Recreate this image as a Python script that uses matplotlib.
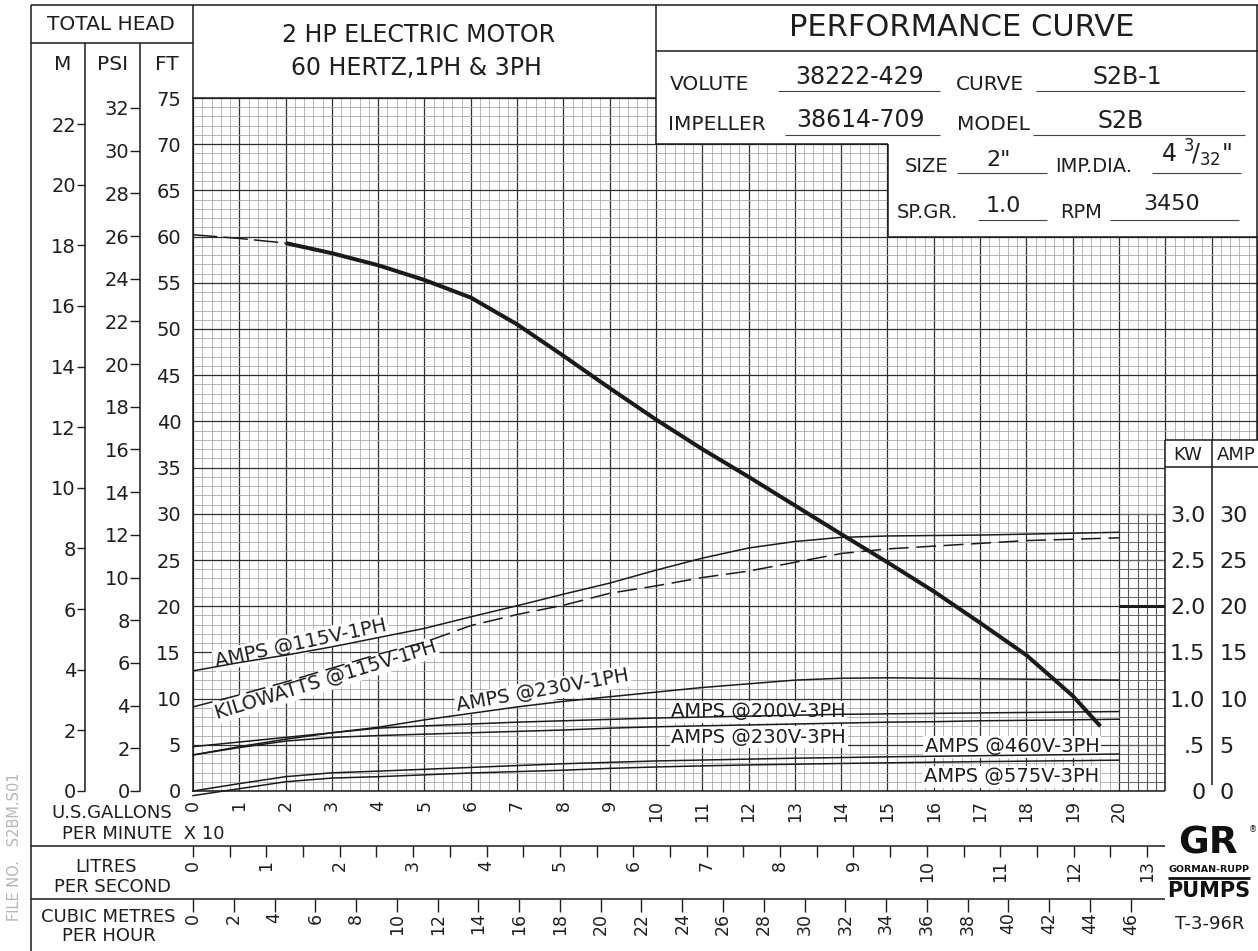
import numpy as np
import matplotlib
matplotlib.use("Agg")
import matplotlib.pyplot as plt
from matplotlib.patches import Rectangle

plt.rcParams['font.family'] = ['DejaVu Sans']

# ---------------- data (flow in U.S. GPM x 10) ----------------
flow = [0, 1, 2, 3, 4, 5, 6, 7, 8, 9, 10, 11, 12, 13, 14, 15, 16, 17, 18, 19, 20]

head_flow = [0, 1, 2, 3, 4, 5, 6, 7, 8, 9, 10, 11, 12, 13, 14, 15, 16, 17, 18, 19, 19.6]
head_ft = [60.2, 59.8, 59.3, 58.2, 56.9, 55.3, 53.4, 50.5, 47.1, 43.6, 40.2, 37.0,
           34.0, 30.9, 27.8, 24.75, 21.6, 18.2, 14.7, 10.3, 7.0]

amps_115v_1ph = [13.0, 13.9, 14.7, 15.6, 16.6, 17.6, 18.85, 20.05, 21.3, 22.5, 23.9,
                 25.2, 26.3, 27.0, 27.45, 27.6, 27.65, 27.7, 27.8, 27.9, 28.0]
kw_115v_1ph = [0.91, 1.04, 1.18, 1.33, 1.48, 1.61, 1.79, 1.91, 2.01, 2.14, 2.22,
               2.31, 2.38, 2.475, 2.57, 2.62, 2.65, 2.68, 2.71, 2.725, 2.74]
amps_230v_1ph = [4.8, 5.3, 5.8, 6.3, 6.9, 7.7, 8.4, 9.1, 9.7, 10.2, 10.7, 11.2,
                 11.6, 12.0, 12.2, 12.25, 12.2, 12.15, 12.1, 12.05, 12.0]
amps_200v_3ph = [3.9, 4.8, 5.6, 6.3, 6.8, 7.05, 7.25, 7.45, 7.6, 7.75, 7.9, 8.0,
                 8.1, 8.2, 8.3, 8.35, 8.4, 8.45, 8.5, 8.55, 8.6]
amps_230v_3ph = [3.9, 4.7, 5.4, 5.8, 6.0, 6.15, 6.3, 6.45, 6.6, 6.8, 6.95, 7.05,
                 7.15, 7.25, 7.35, 7.45, 7.5, 7.6, 7.65, 7.7, 7.77]
amps_460v_3ph = [0.0, 0.8, 1.55, 1.97, 2.15, 2.35, 2.55, 2.75, 2.95, 3.1, 3.25, 3.35,
                 3.45, 3.55, 3.62, 3.7, 3.76, 3.82, 3.88, 3.94, 4.0]
amps_575v_3ph = [-0.5, 0.25, 1.0, 1.4, 1.55, 1.75, 1.95, 2.1, 2.25, 2.45, 2.6, 2.72,
                 2.82, 2.9, 2.98, 3.05, 3.12, 3.18, 3.23, 3.28, 3.34]

# axis ticks / labels
ft_ticks = list(range(0, 76, 5))
m_ticks = list(range(0, 23, 2))
psi_ticks = list(range(0, 33, 2))
gpm_ticks = list(range(0, 24))
gpm_labels = [str(t) if t <= 20 else '' for t in gpm_ticks]
ls_ticks = list(np.arange(0, 13.01, 0.5))
ls_labels = [str(int(t)) if float(t).is_integer() else '' for t in ls_ticks]
m3h_ticks = list(range(0, 47, 2))
kw_ticks = [0, 0.5, 1.0, 1.5, 2.0, 2.5, 3.0]
kw_labels = ['0', '.5', '1.0', '1.5', '2.0', '2.5', '3.0']
amp_ticks = [0, 5, 10, 15, 20, 25, 30]

# ---------------- layout ----------------
W, H = 1258, 951
L0, UX = 193.0, 46.3      # px of flow 0, px per unit
Y0, UY = 791.0, 9.24      # px of 0 ft, px per ft
XMAX, YMAX = 23, 75
TXT = '#1e1e1e'
LC = '#1a1a1a'


def X(u):
    return L0 + u * UX


def Y(f):
    return Y0 - f * UY


fig = plt.figure(figsize=(W / 100, H / 100), dpi=100)
fig.patch.set_facecolor('white')
ax = fig.add_axes([L0 / W, (H - Y0) / H, XMAX * UX / W, YMAX * UY / H])
ax.set_xlim(0, XMAX)
ax.set_ylim(0, YMAX)

ax.set_xticks(gpm_ticks, labels=gpm_labels)
ax.set_xticks(np.arange(0, XMAX + 0.01, 0.2), minor=True)
ax.set_yticks(ft_ticks, labels=[str(t) for t in ft_ticks])
ax.set_yticks(range(0, YMAX + 1), minor=True)
ax.grid(which='minor', color='#a8a8a8', lw=0.6)
ax.grid(which='major', color='#2e2e2e', lw=0.9)
ax.set_axisbelow(True)
ax.tick_params(which='both', length=0, colors=TXT)
ax.tick_params(axis='x', which='major', labelrotation=90, pad=6.5, labelsize=12.5)
ax.tick_params(axis='y', which='major', pad=8.5, labelsize=14)
for s in ax.spines.values():
    s.set_color(LC)
    s.set_linewidth(1.1)

# denser strip between 20 and 21 (low part)
ax.vlines(np.arange(20.2, 21.0, 0.2), 0, 30, color='#555555', lw=0.8, zorder=0.6)
ax.hlines(range(0, 31), 20, 21, color='#666666', lw=0.7, zorder=0.6)
ax.hlines(20, 20, 21, color=LC, lw=2.2, zorder=0.7)

# white KW/AMP box area inside the axes
ax.add_patch(Rectangle((21, -0.7), 2.2, 38.7, transform=ax.transData,
                       facecolor='white', edgecolor='none', zorder=2.6, clip_on=False))

# ---------------- curves ----------------
hf = np.array(head_flow)
hh = np.array(head_ft)
dash_part = hf <= 2
ax.plot(hf[dash_part], hh[dash_part], color=LC, lw=1.1, dashes=(16, 4), zorder=3)
ax.plot(hf[hf >= 2], hh[hf >= 2], color=LC, lw=2.9, solid_capstyle='butt',
        solid_joinstyle='round', zorder=3)

ax.plot(flow, amps_115v_1ph, color=LC, lw=1.1, zorder=2.5)
ax.plot(flow, np.array(kw_115v_1ph) * 10, color=LC, lw=1.1, dashes=(13, 5), zorder=2.5)
for series in (amps_230v_1ph, amps_200v_3ph, amps_230v_3ph, amps_460v_3ph, amps_575v_3ph):
    ax.plot(flow, series, color=LC, lw=1.1, zorder=2.5, clip_on=False)

lbl_kw = dict(fontsize=14, color=TXT, ha='center', va='center', rotation_mode='anchor',
              zorder=1.8, bbox=dict(facecolor='white', edgecolor='none', pad=1.0))
ax.text(2.33, 16.0, 'AMPS @115V-1PH', rotation=12, **lbl_kw)
ax.text(2.87, 12.0, 'KILOWATTS @115V-1PH', rotation=17, **lbl_kw)
ax.text(7.56, 10.85, 'AMPS @230V-1PH', rotation=10, **lbl_kw)
ax.text(12.22, 8.55, 'AMPS @200V-3PH', **lbl_kw)
ax.text(12.22, 5.84, 'AMPS @230V-3PH', **lbl_kw)
ax.text(17.69, 4.79, 'AMPS @460V-3PH', **lbl_kw)
ax.text(17.67, 1.52, 'AMPS @575V-3PH', **lbl_kw)

# ---------------- secondary scales ----------------
def hide_spines(a):
    for s in a.spines.values():
        s.set_visible(False)


sec_m = ax.secondary_yaxis((85 - L0) / (XMAX * UX),
                           functions=(lambda f: f / 3.28084, lambda m: m * 3.28084))
sec_m.set_ticks(m_ticks, labels=[str(t) for t in m_ticks])
sec_m.tick_params(direction='out', length=6, width=1, pad=0.5, labelsize=14, colors=TXT)
hide_spines(sec_m)

sec_psi = ax.secondary_yaxis((140 - L0) / (XMAX * UX),
                             functions=(lambda f: f / 2.31, lambda p: p * 2.31))
sec_psi.set_ticks(psi_ticks, labels=[str(t) for t in psi_ticks])
sec_psi.tick_params(direction='out', length=7, width=1, pad=0.5, labelsize=14, colors=TXT)
hide_spines(sec_psi)

sec_ls = ax.secondary_xaxis((Y0 - 845.7) / (YMAX * UY),
                            functions=(lambda u: u * 0.6309, lambda v: v / 0.6309))
sec_ls.set_ticks(ls_ticks, labels=ls_labels)
sec_ls.tick_params(direction='out', length=8, width=1, pad=2.4, labelsize=12.5,
                   labelrotation=90, colors=TXT)
hide_spines(sec_ls)

sec_m3 = ax.secondary_xaxis((Y0 - 899) / (YMAX * UY),
                            functions=(lambda u: u * 2.2712, lambda v: v / 2.2712))
sec_m3.set_ticks(m3h_ticks, labels=[str(t) for t in m3h_ticks])
sec_m3.tick_params(direction='out', length=9, width=1, pad=0.8, labelsize=12.5,
                   labelrotation=90, colors=TXT)
hide_spines(sec_m3)

sec_amp = ax.secondary_yaxis(22 / XMAX, functions=(lambda f: f, lambda a: a))
sec_amp.set_ticks(amp_ticks, labels=[str(t) for t in amp_ticks])
sec_amp.tick_params(length=0, pad=5.5, labelsize=16, colors=TXT)
hide_spines(sec_amp)
sec_amp.set_zorder(5)

sec_kw = ax.secondary_yaxis(22 / XMAX, functions=(lambda f: f / 10, lambda k: k * 10))
sec_kw.set_alignment('left')
sec_kw.set_ticks(kw_ticks, labels=kw_labels)
sec_kw.tick_params(length=0, pad=4.5, labelsize=16, colors=TXT)
hide_spines(sec_kw)
sec_kw.set_zorder(5)

# ---------------- overlay: frame, boxes, text ----------------
ov = fig.add_axes([0, 0, 1, 1], zorder=5)
ov.set_xlim(0, W)
ov.set_ylim(H, 0)
ov.axis('off')


def hline(y, x1, x2, lw=1.1, c=LC):
    ov.plot([x1, x2], [y, y], color=c, lw=lw, solid_capstyle='butt')


def vline(x, y1, y2, lw=1.1, c=LC):
    ov.plot([x, x], [y1, y2], color=c, lw=lw, solid_capstyle='butt')


def wbox(x1, y1, x2, y2):
    ov.add_patch(Rectangle((x1, y1), x2 - x1, y2 - y1, facecolor='white',
                           edgecolor='none', zorder=1))


wbox(X(10), 0, W, Y(70))
wbox(X(15), Y(70), W, Y(60))

hline(4.5, 31, W)
vline(31, 4.5, H)
hline(43, 31, L0)
vline(85, 43, Y0)
vline(140, 43, Y0)
vline(L0, 4.5, Y(75))
vline(X(10), 4.5, Y(70))
hline(51, X(10), W)
hline(Y(70), X(10), X(15))
vline(X(15), Y(70), Y(60))
hline(Y(60), X(15), W)
vline(W - 1, 4.5, Y(38))
vline(X(21), Y(38), Y0)
hline(Y(38), X(21), W)
hline(467, X(21), W)
vline(X(22), Y(38), 785)
hline(845.7, 31, X(21))
hline(899, 31, X(21))


def t(x, y, s, size, ha='center', va='center', **kw):
    ov.text(x, y, s, fontsize=size, ha=ha, va=va, color=kw.pop('color', TXT), **kw)


t(111, 25, 'TOTAL HEAD', 14.5)
t(63, 65, 'M', 14.5)
t(113, 65, 'PSI', 14.5)
t(167, 65, 'FT', 14.5)
t(419, 35, '2 HP ELECTRIC MOTOR', 17)
t(416, 68, '60 HERTZ,1PH & 3PH', 17)
t(962, 27, 'PERFORMANCE CURVE', 22)

t(670, 85, 'VOLUTE', 14.5, ha='left')
t(860, 77, '38222-429', 17)
hline(90.7, 778, 940, lw=0.8, c='#444444')
t(956, 85, 'CURVE', 14.5, ha='left')
t(1127, 77, 'S2B-1', 17)
hline(90.7, 1036, 1245, lw=0.8, c='#444444')

t(668, 124, 'IMPELLER', 14.5, ha='left')
t(860, 120, '38614-709', 17)
hline(135, 785, 940, lw=0.8, c='#444444')
t(957, 125, 'MODEL', 14.5, ha='left')
t(1121, 121, 'S2B', 17)
hline(135, 1033, 1245, lw=0.8, c='#444444')

t(905, 166, 'SIZE', 14, ha='left')
t(999, 160, '2"', 16)
hline(173, 957, 1047, lw=0.8, c='#444444')
t(1055, 167, 'IMP.DIA.', 14, ha='left')
t(1196, 153, r'4 $^{3}\!/_{32}$"', 17)
hline(173, 1152, 1241, lw=0.8, c='#444444')

t(897, 213, 'SP.GR.', 14, ha='left')
t(1003, 206, '1.0', 16)
hline(220, 978, 1047, lw=0.8, c='#444444')
t(1060, 213, 'RPM', 14, ha='left')
t(1172, 204, '3450', 16)
hline(220, 1110, 1239, lw=0.8, c='#444444')

t(1188, 455, 'KW', 13)
t(1236, 455, 'AMP', 13)

t(112, 813, 'U.S.GALLONS', 13)
t(62, 834, 'PER MINUTE  X 10', 13, ha='left')
t(106, 867, 'LITRES', 13)
t(113, 887, 'PER SECOND', 13)
t(108, 917, 'CUBIC METRES', 13)
t(109, 936, 'PER HOUR', 13)

t(15, 847, 'FILE NO.   S2BM.S01', 10.5, rotation=90, color='#b5b5b5')

# logo
t(1208, 844, 'GR', 27, fontweight='heavy', color='#111111')
t(1253, 830, '®', 6, color='#111111')
t(1209, 870, 'GORMAN-RUPP', 6.8, fontweight='bold', color='#111111')
hline(878, 1168, 1250, lw=2.0, c='#111111')
t(1209, 891, 'PUMPS', 15, fontweight='bold', color='#111111')
t(1210, 924, 'T-3-96R', 13)

fig.savefig('out.png', dpi=100, facecolor='white')
